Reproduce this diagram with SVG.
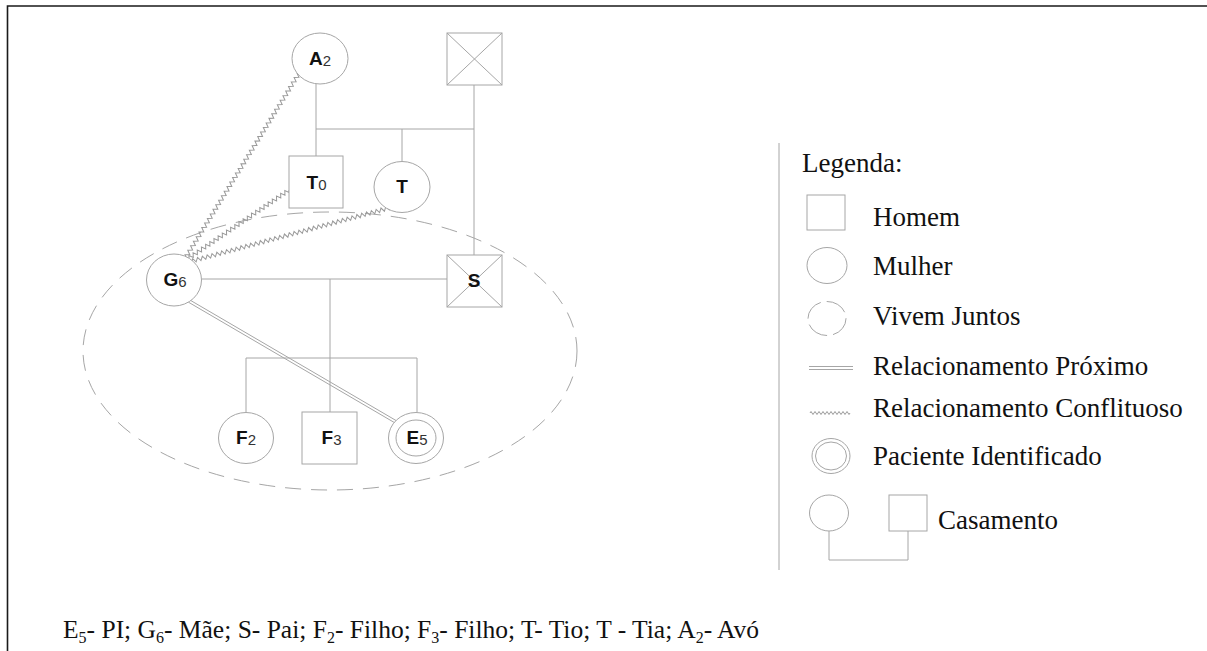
<svg xmlns="http://www.w3.org/2000/svg" xmlns:xlink="http://www.w3.org/1999/xlink" width="1207" height="651" viewBox="0 0 1207 651">
<style>
.ln{fill:none;stroke:#a6a6a6;stroke-width:1}
.nd{fill:#fff;stroke:#a6a6a6;stroke-width:1}
.zz{fill:none;stroke:#9a9a9a;stroke-width:1}
.lb{font-family:"Liberation Sans",Arial,sans-serif;font-weight:bold;font-size:19px;fill:#111;text-anchor:middle}
.sb{font-weight:normal;font-size:15px;fill:#333}
.tx{font-family:"Liberation Serif","Times New Roman",serif;font-size:27px;fill:#111}
.cap{font-size:25.5px}
.ts{font-size:16px}
</style>
<defs>
<path id="zig200" d="M0,0 l1.25,-2 l2.5,4 l2.5,-4 l2.5,4 l2.5,-4 l2.5,4 l2.5,-4 l2.5,4 l2.5,-4 l2.5,4 l2.5,-4 l2.5,4 l2.5,-4 l2.5,4 l2.5,-4 l2.5,4 l2.5,-4 l2.5,4 l2.5,-4 l2.5,4 l2.5,-4 l2.5,4 l2.5,-4 l2.5,4 l2.5,-4 l2.5,4 l2.5,-4 l2.5,4 l2.5,-4 l2.5,4 l2.5,-4 l2.5,4 l2.5,-4 l2.5,4 l2.5,-4 l2.5,4 l2.5,-4 l2.5,4 l2.5,-4 l2.5,4 l2.5,-4 l2.5,4 l2.5,-4 l2.5,4 l2.5,-4 l2.5,4 l2.5,-4 l2.5,4 l2.5,-4 l2.5,4 l2.5,-4 l2.5,4 l2.5,-4 l2.5,4 l2.5,-4 l2.5,4 l2.5,-4 l2.5,4 l2.5,-4 l2.5,4 l2.5,-4 l2.5,4 l2.5,-4 l2.5,4 l2.5,-4 l2.5,4 l2.5,-4 l2.5,4 l2.5,-4 l2.5,4 l2.5,-4 l2.5,4 l2.5,-4 l2.5,4 l2.5,-4 l2.5,4 l2.5,-4 l2.5,4 l2.5,-4 l2.5,4 l2.5,-4 l2.5,4 l2.5,-4 l2.5,4 l2.5,-4 l2.5,4 l1.25,-2"/>
<path id="zig120" d="M0,0 l1.25,-2 l2.5,4 l2.5,-4 l2.5,4 l2.5,-4 l2.5,4 l2.5,-4 l2.5,4 l2.5,-4 l2.5,4 l2.5,-4 l2.5,4 l2.5,-4 l2.5,4 l2.5,-4 l2.5,4 l2.5,-4 l2.5,4 l2.5,-4 l2.5,4 l2.5,-4 l2.5,4 l2.5,-4 l2.5,4 l2.5,-4 l2.5,4 l2.5,-4 l2.5,4 l2.5,-4 l2.5,4 l2.5,-4 l2.5,4 l2.5,-4 l2.5,4 l2.5,-4 l2.5,4 l2.5,-4 l2.5,4 l2.5,-4 l2.5,4 l2.5,-4 l2.5,4 l2.5,-4 l2.5,4 l2.5,-4 l2.5,4 l2.5,-4 l2.5,4 l1.25,-2"/>
</defs>
<rect width="1207" height="651" fill="#fff"/>
<g id="border" fill="none" stroke="#1a1a1a" stroke-width="1.6">
<path d="M7.5,651 V6 H1207"/>
</g>
<g id="connectors">
<ellipse cx="330" cy="351" rx="247" ry="139" fill="none" stroke="#a6a6a6" stroke-width="1" stroke-dasharray="16 10"/>
<path class="ln" d="M316,84 V156 M316,129 H474 M402,129 V161 M474,85 V255"/>
<path class="ln" d="M202,279 H447 M330,279 V412 M246,358 H417 M246,358 V412 M417,358 V412"/>
<path class="ln" d="M189.7,299.9 L396.7,420.9 M188.3,302.1 L395.3,423.1"/>
<use href="#zig200" xlink:href="#zig200" class="zz" transform="translate(186,257) rotate(-58.4) scale(1.068,1)"/>
<use href="#zig120" xlink:href="#zig120" class="zz" transform="translate(189,258) rotate(-34.2) scale(1.008,1)"/>
<use href="#zig200" xlink:href="#zig200" class="zz" transform="translate(192,261) rotate(-15.08)"/>
</g>
<g id="node-A2">
<ellipse class="nd" cx="320" cy="58.5" rx="28" ry="25.5"/>
<text class="lb" x="320" y="65">A<tspan class="sb" dy="1">2</tspan></text>
</g>
<g id="node-avo-falecido">
<rect class="nd" x="447" y="33" width="55" height="52"/>
<path class="ln" d="M447,33 L502,85 M502,33 L447,85"/>
</g>
<g id="node-T0">
<rect class="nd" x="289" y="156" width="54" height="52"/>
<text class="lb" x="316.5" y="189">T<tspan class="sb" dy="1">0</tspan></text>
</g>
<g id="node-T">
<ellipse class="nd" cx="402" cy="187" rx="28" ry="25.5"/>
<text class="lb" x="402" y="193">T</text>
</g>
<g id="node-G6">
<ellipse class="nd" cx="174" cy="280" rx="27.5" ry="26"/>
<text class="lb" x="175" y="286">G<tspan class="sb" dy="1">6</tspan></text>
</g>
<g id="node-S">
<rect class="nd" x="447" y="255" width="55" height="52"/>
<path class="ln" d="M447,255 L502,307 M502,255 L447,307"/>
<text class="lb" x="474" y="287">S</text>
</g>
<g id="node-F2">
<ellipse class="nd" cx="246" cy="438" rx="27.5" ry="25.5"/>
<text class="lb" x="246" y="444">F<tspan class="sb" dy="1">2</tspan></text>
</g>
<g id="node-F3">
<rect class="nd" x="302" y="412" width="55" height="52"/>
<text class="lb" x="331.5" y="444">F<tspan class="sb" dy="1">3</tspan></text>
</g>
<g id="node-E5">
<ellipse class="nd" cx="416" cy="438" rx="27.5" ry="25.5"/>
<ellipse class="nd" cx="416" cy="438" rx="20" ry="18"/>
<text class="lb" x="417" y="444">E<tspan class="sb" dy="1">5</tspan></text>
</g>
<g id="legend">
<path class="ln" d="M779,143 V570"/>
<text class="tx" x="802" y="172">Legenda:</text>
<rect class="nd" x="807" y="195" width="38" height="35"/>
<text class="tx" x="873" y="226">Homem</text>
<ellipse class="nd" cx="827" cy="265.5" rx="20" ry="18"/>
<text class="tx" x="873" y="275">Mulher</text>
<ellipse class="nd" cx="827" cy="318.5" rx="19" ry="17" stroke-dasharray="22 6"/>
<text class="tx" x="873" y="325">Vivem Juntos</text>
<path class="ln" d="M809,366.5 H853 M809,369.5 H853"/>
<text class="tx" x="873" y="375">Relacionamento Próximo</text>
<path class="zz" d="M810,413 l1,-1.5 l2,3 l2,-3 l2,3 l2,-3 l2,3 l2,-3 l2,3 l2,-3 l2,3 l2,-3 l2,3 l2,-3 l2,3 l2,-3 l2,3 l2,-3 l2,3 l2,-3 l2,3 l1,-1.5"/>
<text class="tx" x="873" y="417">Relacionamento Conflituoso</text>
<ellipse class="nd" cx="831" cy="456" rx="19" ry="17.5"/>
<ellipse class="nd" cx="831" cy="456" rx="15.5" ry="14"/>
<text class="tx" x="873" y="465">Paciente Identificado</text>
<ellipse class="nd" cx="829" cy="513" rx="19.5" ry="18"/>
<rect class="nd" x="889" y="495" width="38" height="36"/>
<path class="ln" d="M829,531 V560 H908 V531"/>
<text class="tx" x="938" y="529">Casamento</text>
</g>
<g id="caption">
<text class="tx cap" x="63" y="638">E<tspan class="ts" dy="5">5</tspan><tspan dy="-5">- PI; G</tspan><tspan class="ts" dy="5">6</tspan><tspan dy="-5">- Mãe; S- Pai; F</tspan><tspan class="ts" dy="5">2</tspan><tspan dy="-5">- Filho; F</tspan><tspan class="ts" dy="5">3</tspan><tspan dy="-5">- Filho; T- Tio; T - Tia; A</tspan><tspan class="ts" dy="5">2</tspan><tspan dy="-5">- Avó</tspan></text>
</g>
</svg>
